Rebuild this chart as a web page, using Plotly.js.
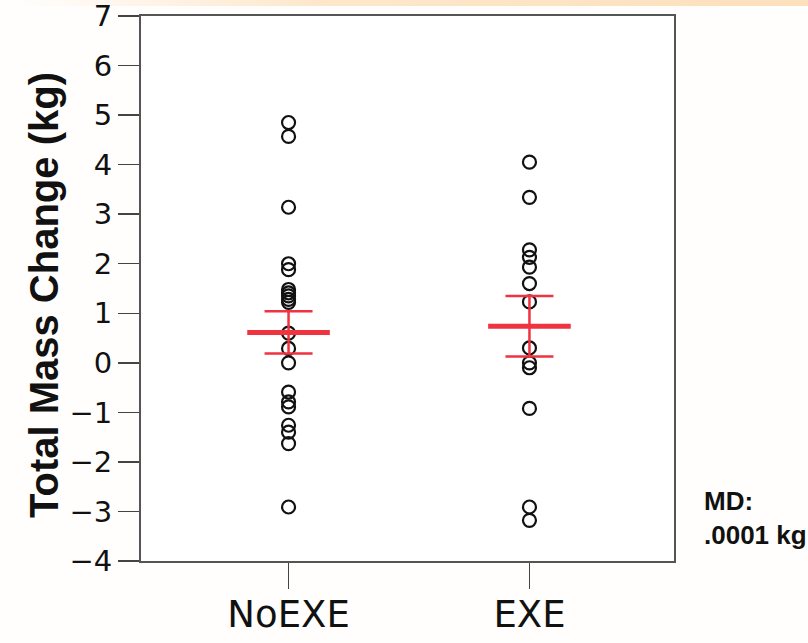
<!DOCTYPE html>
<html>
<head>
<meta charset="utf-8">
<script src="https://cdn.plot.ly/plotly-3.0.1.min.js"></script>
<style>
  html, body { margin: 0; padding: 0; }
  body {
    width: 808px; height: 643px; overflow: hidden;
    background:
      linear-gradient(to right, #ffffff 0%, #fde7cb 40%, #fde0bc 100%) top left / 100% 6px no-repeat,
      #fffefc;
  }
  #chart { width: 808px; height: 643px; }
</style>
</head>
<body>
<div id="chart"></div>
<script>
// Groups on the x axis
const groups = ['NoEXE', 'EXE'];

// Individual total mass change (kg) per participant
const noExeChange = [4.85, 4.57, 3.14, 2.0, 1.88, 1.48, 1.41, 1.35, 1.28, 1.22,
                     0.60, 0.29, 0.0, -0.59, -0.79, -0.89, -1.26, -1.40, -1.63, -2.91];
const exeChange = [4.05, 3.34, 2.28, 2.13, 1.93, 1.60, 1.23, 0.30, 0.0, -0.10,
                   -0.92, -2.91, -3.18];

// Group mean and 95% CI bounds
const groupMeans = [0.61, 0.74];
const ciUpper = [1.04, 1.35];
const ciLower = [0.19, 0.13];

// Y axis ticks
const yTickVals = [-4, -3, -2, -1, 0, 1, 2, 3, 4, 5, 6, 7];

const red = '#ef3340';

const pointStyle = {
  type: 'scatter',
  mode: 'markers',
  hoverinfo: 'y',
  showlegend: false,
  marker: { symbol: 'circle-open', size: 13, color: '#111', line: { width: 2.2, color: '#111' } }
};

const traces = [
  Object.assign({}, pointStyle, { x: noExeChange.map(() => groups[0]), y: noExeChange, name: groups[0] }),
  Object.assign({}, pointStyle, { x: exeChange.map(() => groups[1]), y: exeChange, name: groups[1] }),
  {
    type: 'scatter',
    mode: 'markers',
    x: groups,
    y: groupMeans,
    name: 'Mean',
    showlegend: false,
    marker: { symbol: 'line-ew', size: 59, color: red, line: { width: 5, color: red } },
    error_y: {
      type: 'data',
      symmetric: false,
      array: groupMeans.map((m, i) => ciUpper[i] - m),
      arrayminus: groupMeans.map((m, i) => m - ciLower[i]),
      color: red,
      thickness: 2.5,
      width: 24
    }
  }
];

const layout = {
  width: 808,
  height: 643,
  margin: { l: 141, r: 134, t: 16, b: 82 },
  paper_bgcolor: 'rgba(0,0,0,0)',
  plot_bgcolor: '#ffffff',
  showlegend: false,
  xaxis: {
    type: 'category',
    categoryorder: 'array',
    categoryarray: groups,
    range: [-0.6125, 1.6],
    showgrid: false,
    zeroline: false,
    showline: true,
    mirror: true,
    linecolor: '#555',
    linewidth: 2,
    ticks: 'outside',
    ticklen: 26,
    tickwidth: 1.5,
    tickcolor: '#444',
    ticklabelstandoff: -6,
    tickfont: { family: 'DejaVu Sans, sans-serif', size: 37, color: '#111' }
  },
  yaxis: {
    range: [-4, 7],
    tickmode: 'array',
    tickvals: yTickVals,
    showgrid: false,
    zeroline: false,
    showline: true,
    mirror: true,
    linecolor: '#555',
    linewidth: 2,
    ticks: 'outside',
    ticklen: 21,
    tickwidth: 1.5,
    tickcolor: '#444',
    ticklabeloverflow: 'allow',
    tickfont: { family: 'DejaVu Sans, sans-serif', size: 29, color: '#111' }
  },
  annotations: [
    {
      // y axis title, placed as rotated text
      xref: 'paper', yref: 'paper',
      x: (44 - 141) / 533, y: (561 - 295) / 545,
      xanchor: 'center', yanchor: 'middle',
      textangle: -90,
      showarrow: false,
      text: '<b>Total Mass Change (kg)</b>',
      font: { family: 'Liberation Sans, Arial, sans-serif', size: 40, color: '#111' }
    },
    {
      xref: 'paper', yref: 'paper',
      x: (703 - 141) / 533, y: (561 - 485) / 545,
      xanchor: 'left', yanchor: 'top',
      align: 'left',
      showarrow: false,
      borderpad: 0,
      text: '<b>MD:<br>.0001 kg</b>',
      font: { family: 'Liberation Sans, Arial, sans-serif', size: 26, color: '#111' }
    }
  ]
};

Plotly.newPlot('chart', traces, layout, { displayModeBar: false, staticPlot: true });
</script>
</body>
</html>
